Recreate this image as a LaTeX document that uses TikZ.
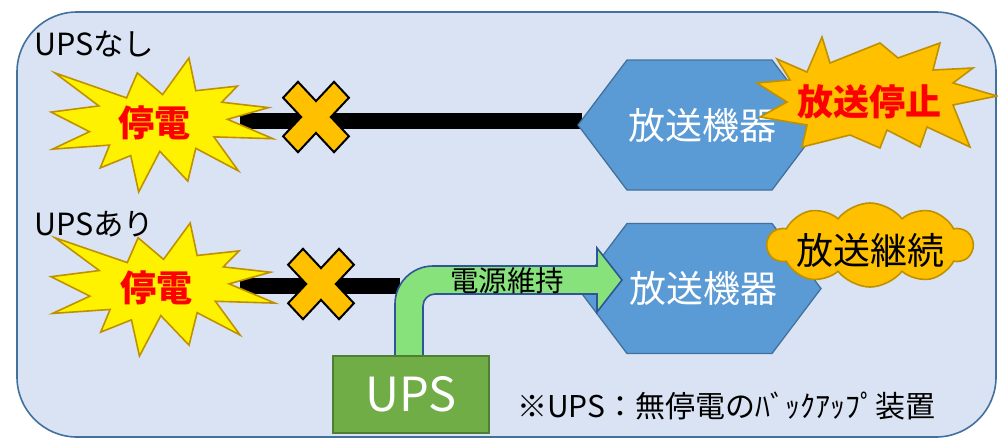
\documentclass[tikz,border=0pt]{standalone}
\usepackage{fontspec}
\setmainfont{Noto Sans CJK JP}
\usetikzlibrary{shapes.symbols,calc}
\definecolor{bgfill}{HTML}{DAE3F3}
\definecolor{bgline}{HTML}{41719C}
\definecolor{hexfill}{HTML}{5B9BD5}
\definecolor{gold}{HTML}{FFC000}
\definecolor{goldline}{HTML}{BF9000}
\definecolor{upsgreen}{HTML}{70AD47}
\definecolor{upsline}{HTML}{507E32}
\definecolor{arrowgreen}{HTML}{88E27C}
\definecolor{arrowline}{HTML}{2F5597}
\definecolor{alertred}{HTML}{FF0000}
\tikzset{
  boomline/.style={draw=goldline, line width=1.6pt, line join=miter},
  hexbox/.style={draw=bgline, fill=hexfill, line width=1.3pt, line join=miter},
  powerline/.style={line width=16pt, draw=black},
  xmark/.style={draw=black, fill=gold, line width=2pt, line join=miter},
  alerttext/.style={text=alertred, font=\fontsize{36}{40}\selectfont\bfseries, inner sep=0pt},
  hextext/.style={text=white, font=\fontsize{37}{40}\selectfont, inner sep=0pt},
  rowlabel/.style={anchor=base west, font=\fontsize{30.5}{33}\selectfont, inner sep=0pt},
}
% irregular explosion (24 points), centred on #1, size #2 x #3, fill #4
\newcommand\boomshape[4]{%
  \begin{scope}[shift={(#1)}, xscale=#2, yscale=#3, shift={(-50,-50)}]
    \draw[boomline, fill=#4] (50.47,27.34) -- (39.16,11.11) -- (34.34,29.75) -- (2.20,11.11)
      -- (21.91,35.75) -- (0.49,40.36) -- (17.72,55.00) -- (1.13,68.00) -- (26.72,65.00)
      -- (22.54,82.03) -- (36.20,72.82) -- (39.77,100) -- (49.25,69.62) -- (61.80,91.85)
      -- (65.39,67.41) -- (84.48,84.24) -- (73.51,58.85) -- (100,60.23) -- (79.58,45.75)
      -- (98,37) -- (77,33) -- (84,21) -- (65.39,24.40) -- (62.31,0) -- cycle;
  \end{scope}}
% X mark centred on #1
\newcommand\crossshape[1]{%
  \begin{scope}[shift={(#1)}, yscale=1.07, rotate=45]
    \draw[xmark] (10.5,36) -- (10.5,10.5) -- (36,10.5) -- (36,-10.5) -- (10.5,-10.5)
      -- (10.5,-36) -- (-10.5,-36) -- (-10.5,-10.5) -- (-36,-10.5) -- (-36,10.5)
      -- (-10.5,10.5) -- (-10.5,36) -- cycle;
  \end{scope}}
% hexagon round the centre #1
\newcommand\hexshape[1]{%
  \draw[hexbox] ($(#1)+(-121.5,0)$) -- ($(#1)+(-72.5,-65)$) -- ($(#1)+(72.5,-65)$)
    -- ($(#1)+(121.5,0)$) -- ($(#1)+(72.5,65)$) -- ($(#1)+(-72.5,65)$) -- cycle;}
\begin{document}
\begin{tikzpicture}[x=1pt,y=-1pt]
\useasboundingbox (0,0) rectangle (998,440);
% background panel
\draw[fill=bgfill, draw=bgline, line width=1.6pt, rounded corners=60pt] (17,12) rectangle (996,437);

% key positions
\coordinate (boomA) at (161.5,125);
\coordinate (boomB) at (162.5,289.5);
\coordinate (hexA) at (699.5,125);
\coordinate (hexB) at (699.5,288.5);
\coordinate (crossA) at (316,117);
\coordinate (crossB) at (321,284);
\coordinate (lineAstart) at (240,121);
\coordinate (lineAend) at (582,121);
\coordinate (lineBstart) at (240,285.5);
\coordinate (lineBend) at (400,285.5);

% power lines
\draw[powerline] (lineAstart) -- (lineAend);
\draw[powerline] (lineBstart) -- (lineBend);

% outage explosions
\boomshape{boomA}{2.23}{1.34}{yellow}
\boomshape{boomB}{2.25}{1.33}{yellow}
\node[alerttext] (outA) at (154,123) {停電};
\node[alerttext] (outB) at (156,288) {停電};

% cross marks
\crossshape{crossA}
\crossshape{crossB}

% broadcasting equipment
\hexshape{hexA}
\hexshape{hexB}
\node[hextext] (devA) at (702,125) {放送機器};
\node[hextext] (devB) at (703,288) {放送機器};

% broadcast stopped
\draw[boomline, fill=gold] (777,59) -- (807,72) -- (822,37) -- (830,63) -- (880,43) -- (898,58)
  -- (940,43) -- (933,70) -- (973,68) -- (953,83) -- (997,96) -- (953,105) -- (970,147)
  -- (927,127) -- (920,147) -- (887,130) -- (880,148) -- (850,135) -- (802,147) -- (807,125)
  -- (760,117) -- (787,102) -- (757,83) -- (790,80) -- cycle;
\node[alerttext] (stopA) at (869,102) {放送停止};

% broadcast continues
\node[cloud, cloud puffs=10, cloud puff arc=105, aspect=2.4, draw=goldline, fill=gold,
      line width=1.6pt, minimum width=205pt, minimum height=84pt, inner sep=0pt]
      (contB) at (870,245) {};
\node[font=\fontsize{37}{40}\selectfont, inner sep=0pt] (contText) at (870,250) {放送継続};

% UPS power arrow
\draw[fill=arrowgreen, draw=arrowline, line width=1.6pt, line join=miter]
  (395,356) -- (395,304) .. controls (395,283) and (412,266) .. (433,266) -- (597,266)
  -- (597,248) -- (622,280) -- (597,312) -- (597,294) -- (435,294)
  .. controls (428.4,294) and (423,299.4) .. (423,306) -- (423,356) -- cycle;
\node[font=\fontsize{28.5}{30}\selectfont, inner sep=0pt] (keep) at (507,281) {電源維持};

% UPS box
\node[draw=upsline, fill=upsgreen, line width=1.6pt, minimum width=156pt, minimum height=77pt,
      text=white, font=\fontsize{47}{50}\selectfont] (ups) at (411,394.5) {UPS};

% labels
\node[rowlabel] (labA) at (34,55) {UPSなし};
\node[rowlabel] (labB) at (34,235) {UPSあり};
\node[anchor=west, font=\fontsize{30}{32}\selectfont, inner sep=0pt] (note) at (517,406)
  {※UPS：無停電のﾊﾞｯｸｱｯﾌﾟ装置};
\end{tikzpicture}
\end{document}
